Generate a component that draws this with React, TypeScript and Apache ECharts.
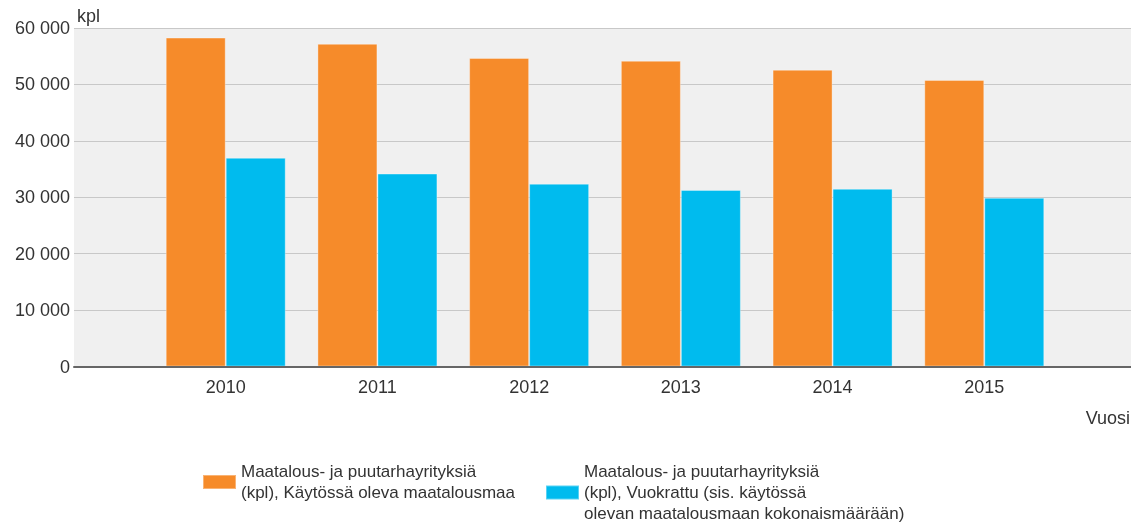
import React, { useEffect, useRef } from "react";
import * as echarts from "echarts";

const years = ["2010", "2011", "2012", "2013", "2014", "2015"];
const inUseFarms = [58300, 57200, 54700, 54200, 52600, 50800];
const rentedFarms = [37000, 34200, 32400, 31300, 31500, 29900];
const seriesNames = [
  ["Maatalous- ja puutarhayrityksiä", "(kpl), Käytössä oleva maatalousmaa"],
  ["Maatalous- ja puutarhayrityksiä", "(kpl), Vuokrattu (sis. käytössä", "olevan maatalousmaan kokonaismäärään)"],
];
const yAxisName = "kpl";
const xAxisName = "Vuosi";

const FONT = "'Liberation Sans', Arial, sans-serif";

export default function App() {
  const ref = useRef<HTMLDivElement>(null);
  useEffect(() => {
    if (!ref.current) return;
    const chart = echarts.init(ref.current, null, { renderer: "svg" });
    const cats = ["", ...years, ""];
    const pad = (arr: number[]) => [null, ...arr, null];
    const name1 = seriesNames[0].join("\n");
    const name2 = seriesNames[1].join("\n");
    const legendBase = {
      top: 461,
      padding: 0,
      itemWidth: 33,
      itemHeight: 14,
      icon: "rect",
      selectedMode: false,
      textStyle: { fontSize: 17, lineHeight: 21, color: "#333", fontFamily: FONT },
    };
    chart.setOption({
      animation: false,
      textStyle: { fontFamily: FONT },
      grid: {
        left: 74,
        right: -5,
        top: 28,
        bottom: 156.5,
        show: true,
        backgroundColor: "#f0f0f0",
        borderWidth: 0,
        containLabel: false,
        outerBoundsMode: "none",
      },
      legend: [
        { ...legendBase, left: 202, data: [name1] },
        { ...legendBase, left: 545, data: [name2] },
      ],
      xAxis: {
        type: "category",
        data: cats,
        boundaryGap: false,
        z: 5,
        axisLine: { show: true, lineStyle: { color: "#666", width: 2 } },
        axisTick: { show: false },
        splitLine: { show: false },
        axisLabel: { fontSize: 18, color: "#333", margin: 11, fontFamily: FONT, interval: 0 },
      },
      yAxis: {
        type: "value",
        min: 0,
        max: 60000,
        interval: 10000,
        axisLine: { show: false },
        axisTick: { show: false },
        splitLine: { show: true, lineStyle: { color: "#c8c8c8", width: 1 } },
        axisLabel: {
          fontSize: 18,
          color: "#333",
          margin: 4,
          fontFamily: FONT,
          formatter: (v: number) => String(v).replace(/\B(?=(\d{3})+(?!\d))/g, " "),
        },
      },
      graphic: [
        { type: "text", left: 77, top: 7, style: { text: yAxisName, fontSize: 18, fill: "#333", fontFamily: FONT } },
        { type: "text", right: 1, top: 409, style: { text: xAxisName, fontSize: 18, fill: "#333", fontFamily: FONT } },
      ],
      series: [
        {
          name: name1,
          type: "bar",
          data: pad(inUseFarms),
          barWidth: 60,
          barGap: "0%",
          itemStyle: { color: "#f68b2a", borderColor: "rgba(255,255,255,0.35)", borderWidth: 1 },
        },
        {
          name: name2,
          type: "bar",
          data: pad(rentedFarms),
          barWidth: 60,
          barGap: "0%",
          itemStyle: { color: "#00bbee", borderColor: "rgba(255,255,255,0.35)", borderWidth: 1 },
        },
      ],
    });
    return () => chart.dispose();
  }, []);
  return (
    <div
      ref={ref}
      style={{ position: "fixed", left: 0, top: 0, width: 1131, height: 523 }}
    />
  );
}
